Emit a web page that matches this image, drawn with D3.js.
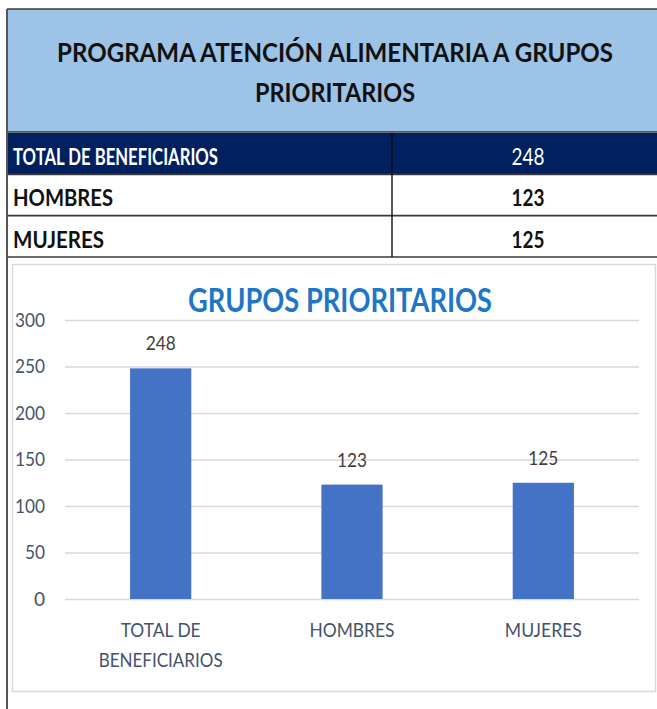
<!DOCTYPE html>
<html>
<head>
<meta charset="utf-8">
<script src="https://cdn.jsdelivr.net/npm/d3@7"></script>
<style>
  body { margin: 0; background: #fff; }
  svg { display: block; font-family: Lato, "Open Sans", sans-serif; }
</style>
</head>
<body>
<div id="chart"></div>
<script>
// table + bar chart, grupos prioritarios

const tableTitle = ["PROGRAMA ATENCIÓN ALIMENTARIA A GRUPOS", "PRIORITARIOS"];
const chartTitle = "GRUPOS PRIORITARIOS";
const categories = ["TOTAL DE BENEFICIARIOS", "HOMBRES", "MUJERES"];
const values = [248, 123, 125];
const yTicks = [0, 50, 100, 150, 200, 250, 300];

const width = 657, height = 709;

const svg = d3.select("#chart")
  .append("svg")
  .attr("width", width)
  .attr("height", height);

// squeeze a text to a target width (Calibri is narrower than what we have)
function fit(sel, w) {
  sel.each(function () {
    const len = this.getComputedTextLength();
    if (Math.abs(len - w) > 2) {
      d3.select(this).attr("textLength", w).attr("lengthAdjust", "spacingAndGlyphs");
    }
  });
}

// ---------- table ----------
const rowY = d3.scaleBand()
  .domain(categories)
  .range([133, 257]);

svg.append("rect") // light blue header
  .attr("x", 7).attr("y", 9)
  .attr("width", width - 7).attr("height", 123)
  .attr("fill", "#9DC3E6");

svg.append("rect") // navy first row
  .attr("x", 7).attr("y", rowY(categories[0]))
  .attr("width", width - 7).attr("height", rowY.bandwidth())
  .attr("fill", "#002060");

tableTitle.forEach((t, i) => {
  svg.append("text")
    .attr("x", 335)
    .attr("y", 62 + i * 40)
    .attr("text-anchor", "middle")
    .attr("font-weight", "bold")
    .attr("font-size", 26)
    .attr("fill", "#111")
    .text(t)
    .call(fit, i === 0 ? 556 : 160);
});

const labelW = { "TOTAL DE BENEFICIARIOS": 205, "HOMBRES": 100, "MUJERES": 91 };

categories.forEach((c, i) => {
  const y0 = rowY(c);
  svg.append("text")
    .attr("x", 13)
    .attr("y", y0 + 32)
    .attr("font-weight", "bold")
    .attr("font-size", 23)
    .attr("fill", i === 0 ? "#fff" : "#111")
    .text(c)
    .call(fit, labelW[c]);

  svg.append("text")
    .attr("x", 528)
    .attr("y", y0 + 32)
    .attr("text-anchor", "middle")
    .attr("font-weight", i === 0 ? "normal" : "bold")
    .attr("font-size", 23)
    .attr("fill", i === 0 ? "#fff" : "#111")
    .text(values[i])
    .call(fit, 33);
});

// table lines
const lineColor = "#3a3a3a";
[9, 132, rowY(categories[1]), rowY(categories[2]), 257].forEach(y => {
  svg.append("line")
    .attr("x1", 7).attr("x2", width)
    .attr("y1", y).attr("y2", y)
    .attr("stroke", lineColor)
    .attr("stroke-width", 1.6);
});
svg.append("line") // column divider
  .attr("x1", 392).attr("x2", 392)
  .attr("y1", 133).attr("y2", 257)
  .attr("stroke", "#111").attr("stroke-width", 1.4);
svg.append("line") // left border down the page
  .attr("x1", 7).attr("x2", 7)
  .attr("y1", 9).attr("y2", height)
  .attr("stroke", "#555").attr("stroke-width", 2);

// ---------- chart ----------
svg.append("rect") // chart frame
  .attr("x", 12.5).attr("y", 264.5)
  .attr("width", 643).attr("height", 427)
  .attr("fill", "#fff")
  .attr("stroke", "#d9d9d9")
  .attr("stroke-width", 1.5);

svg.append("text")
  .attr("x", 340)
  .attr("y", 312)
  .attr("text-anchor", "middle")
  .attr("font-weight", "bold")
  .attr("font-size", 32)
  .attr("fill", "#1E76C6")
  .text(chartTitle)
  .call(fit, 304);

const x = d3.scaleBand()
  .domain(categories)
  .range([65, 639])
  .paddingInner(0.68)
  .paddingOuter(0.34);

const y = d3.scaleLinear()
  .domain([0, 300])
  .range([599, 320]);

svg.append("g")
  .attr("class", "y-axis")
  .attr("transform", "translate(65,0)")
  .call(d3.axisLeft(y)
    .tickValues(yTicks)
    .tickSize(-574)
    .tickPadding(20)
  )
  .call(g => g.select(".domain").remove())
  .call(g => g.selectAll(".tick line").attr("stroke", "#d9d9d9").attr("stroke-width", 1.5))
  .call(g => g.selectAll(".tick text")
    .attr("font-family", "Lato, sans-serif")
    .attr("font-size", 19)
    .attr("fill", "#44546A")
    .each(function (d) { d3.select(this).call(fit, String(d).length * 10); }));

svg.selectAll(".bar")
  .data(values)
  .join("rect")
  .attr("class", "bar")
  .attr("x", (d, i) => x(categories[i]))
  .attr("y", d => y(d))
  .attr("width", x.bandwidth())
  .attr("height", d => y(0) - y(d))
  .attr("fill", "#4472C4");

svg.selectAll(".val")
  .data(values)
  .join("text")
  .attr("class", "val")
  .attr("x", (d, i) => x(categories[i]) + x.bandwidth() / 2)
  .attr("y", d => y(d) - 18)
  .attr("text-anchor", "middle")
  .attr("font-size", 19)
  .attr("fill", "#404040")
  .text(d => d)
  .call(fit, 30);

// category labels, wrapped like Excel does
const axisLabelW = { "TOTAL DE": 80, "BENEFICIARIOS": 124, "HOMBRES": 85, "MUJERES": 77 };
categories.forEach(c => {
  const words = c.split(" ");
  const lines = [];
  let cur = "";
  words.forEach(w => {
    const test = cur ? cur + " " + w : w;
    if (test.length > 13 && cur) { lines.push(cur); cur = w; }
    else cur = test;
  });
  lines.push(cur);
  lines.forEach((l, j) => {
    svg.append("text")
      .attr("x", x(c) + x.bandwidth() / 2)
      .attr("y", 637 + j * 30)
      .attr("text-anchor", "middle")
      .attr("font-size", 19)
      .attr("fill", "#44546A")
      .text(l)
      .call(fit, axisLabelW[l] || l.length * 9.5);
  });
});
</script>
</body>
</html>
